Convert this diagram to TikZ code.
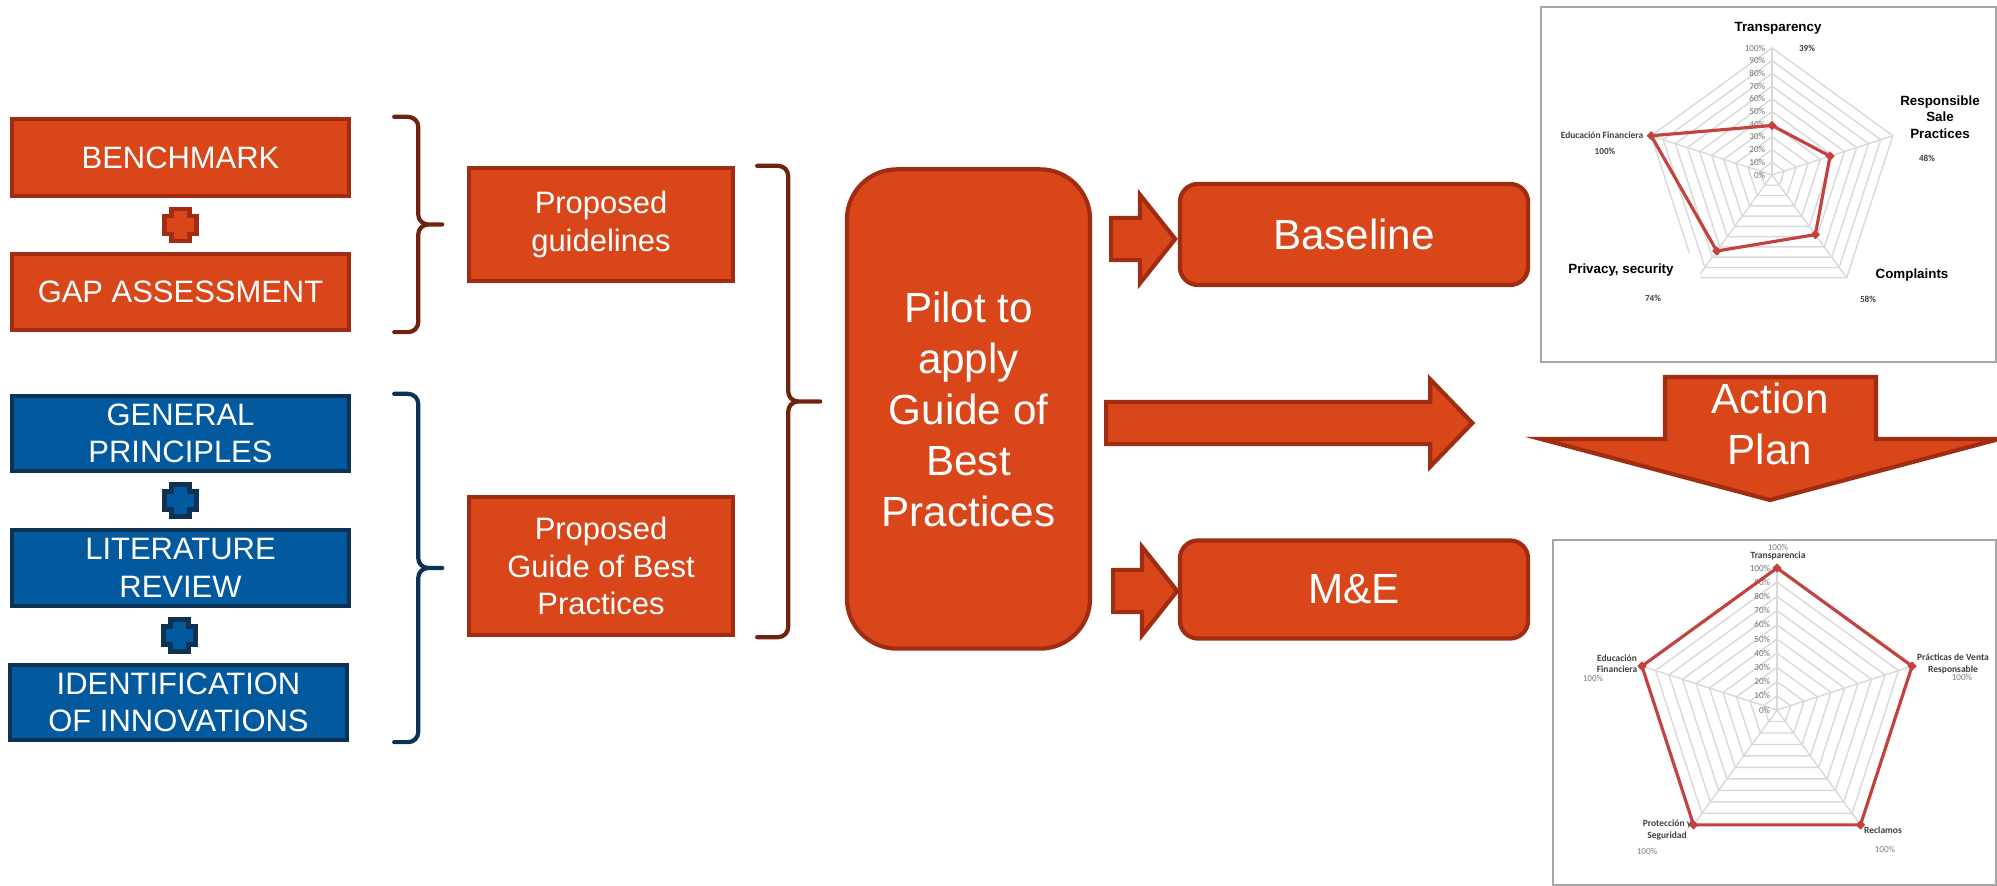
\documentclass[tikz,border=0pt]{standalone}
\usepackage{fontspec}
\setmainfont{Liberation Sans}
\newfontfamily\chartfont{Carlito}
\usepackage{xcolor}
\usepackage{tikz}
\usetikzlibrary{shapes.geometric, shapes.arrows, arrows.meta, positioning, calc}

\definecolor{orfill}{RGB}{216,70,26}
\definecolor{ordraw}{RGB}{160,45,17}
\definecolor{brbrace}{RGB}{110,35,16}
\definecolor{blfill}{RGB}{2,89,158}
\definecolor{bldraw}{RGB}{14,50,84}
\definecolor{chartred}{RGB}{196,66,62}
\definecolor{gridgray}{RGB}{217,217,217}
\definecolor{labgray}{RGB}{64,64,64}

\tikzset{
  plussign/.pic={
    \filldraw (-9,-16) -- (9,-16) -- (9,-9) -- (16,-9) -- (16,9) -- (9,9)
      -- (9,16) -- (-9,16) -- (-9,9) -- (-16,9) -- (-16,-9) -- (-9,-9) -- cycle;
  }
}

\begin{document}
\begin{tikzpicture}[x=0.01cm, y=-0.01cm,
    box/.style={rectangle, draw=ordraw, fill=orfill, line width=1.2pt,
                text=white, align=center, inner sep=0pt,
                font=\fontsize{8.8}{10.7}\selectfont},
    bluebox/.style={box, draw=bldraw, fill=blfill},
    bigbox/.style={box, rounded corners=0.18cm,
                   font=\fontsize{12}{14.5}\selectfont},
    blockarrow/.style={single arrow, draw=ordraw, fill=orfill,
                       line width=1.2pt, inner sep=0pt, anchor=tail,
                       text height=0.38cm, text depth=0pt},
    bracket/.style={line width=1.2pt, line cap=round, rounded corners=0.1cm},
    frame/.style={draw=black!35, fill=white, line width=0.6pt},
    gridline/.style={draw=gridgray, line width=0.4pt},
    dataline/.style={draw=chartred, line width=0.9pt, line join=round},
    datamark/.style={diamond, fill=chartred, inner sep=0pt, minimum size=0.1cm},
    axlabel/.style={font=\chartfont\fontsize{2.6}{3}\selectfont, text=black!55,
                    inner sep=0.3pt, anchor=east},
    catlabel/.style={font=\chartfont\bfseries\fontsize{2.7}{3.2}\selectfont,
                     text=labgray, align=center, inner sep=0.3pt},
    pctlabel/.style={font=\chartfont\bfseries\fontsize{2.6}{3}\selectfont,
                     text=labgray, inner sep=0.3pt},
    valgray/.style={font=\chartfont\fontsize{2.6}{3}\selectfont,
                    text=black!50, inner sep=0.3pt},
    biglabel/.style={font=\bfseries\fontsize{3.8}{4.7}\selectfont,
                     fill=white, align=center, inner sep=0.5pt}]

  \useasboundingbox (0,0) rectangle (1997,886);

  % inputs on the left
  \node[box, minimum width=3.37cm, minimum height=0.77cm] (bench) at (180.5,157.5) {BENCHMARK};
  \node[box, minimum width=3.37cm, minimum height=0.76cm] (gap) at (180.5,292) {GAP ASSESSMENT};
  \node[bluebox, minimum width=3.37cm, minimum height=0.75cm] (general) at (180.5,433.5) {GENERAL\\PRINCIPLES};
  \node[bluebox, minimum width=3.37cm, minimum height=0.76cm] (litrev) at (180.5,568) {LITERATURE\\REVIEW};
  \node[bluebox, minimum width=3.37cm, minimum height=0.75cm] (ident) at (178.5,702.5) {IDENTIFICATION\\OF INNOVATIONS};

  \pic[fill=orfill, draw=ordraw, line width=1.2pt] at ($(bench.south)!0.5!(gap.north)$) {plussign};
  \pic[fill=blfill, draw=bldraw, line width=1.2pt] at ($(general.south)!0.5!(litrev.north)$) {plussign};
  \pic[fill=blfill, draw=bldraw, line width=1.2pt] at ($(litrev.south)!0.5!(ident.north)$) {plussign};

  % right braces
  \coordinate (bra1) at ([xshift=0.43cm]bench.north east);
  \coordinate (brb1) at ([xshift=0.43cm]gap.south east);
  \coordinate (brm1) at ($(bra1)!0.5!(brb1)+(24,0)$);
  \draw[bracket, brbrace] (bra1) -| (brm1) -- ++(24,0) (brb1) -| (brm1) -- ++(24,0);

  \coordinate (bra2) at ([xshift=0.43cm]general.north east);
  \coordinate (brb2) at ([xshift=0.43cm]general.east |- ident.south);
  \coordinate (brm2) at ($(bra2)!0.5!(brb2)+(24,0)$);
  \draw[bracket, bldraw] (bra2) -| (brm2) -- ++(24,0) (brb2) -| (brm2) -- ++(24,0);

  % proposals
  \node[box, minimum width=2.64cm, minimum height=1.13cm] (guidea) at (601,224.5) {Proposed\\guidelines};
  \node[box, minimum width=2.64cm, minimum height=1.38cm] (guideb) at (601,566) {Proposed\\Guide of Best\\Practices};

  \coordinate (bra3) at ([xshift=0.22cm]guidea.north east);
  \coordinate (brb3) at ([xshift=0.22cm]guideb.south east);
  \coordinate (brm3) at ($(bra3)!0.5!(brb3)+(31,0)$);
  \draw[bracket, brbrace] (bra3) -| (brm3) -- ++(32,0) (brb3) -| (brm3) -- ++(32,0);

  % pilot and results
  \node[bigbox, rounded corners=0.5cm, minimum width=2.43cm, minimum height=4.79cm] (pilot) at (968.5,409)
        {Pilot to\\apply\\Guide of\\Best\\Practices};
  \node[bigbox, minimum width=3.48cm, minimum height=1.01cm] (base) at (1354,234.5) {Baseline};
  \node[bigbox, minimum width=3.48cm, minimum height=0.98cm] (mande) at (1354,589.5) {M\&E};

  \node[blockarrow, minimum height=0.64cm,
        single arrow head extend=0.23cm, single arrow tip angle=103] (arrbase) at (1109,239) {};
  \node[blockarrow, minimum height=0.64cm,
        single arrow head extend=0.23cm, single arrow tip angle=103] (arrme) at (1111,591) {};
  \node[blockarrow, minimum height=3.66cm,
        single arrow head extend=0.225cm, single arrow tip angle=92] (arrplan) at (1104,423) {};

  % action plan arrow
  \filldraw[fill=orfill, draw=ordraw, line width=1.2pt, line join=miter]
    (1665,377) -- (1876,377) -- (1876,439) -- (1999,439) -- (1770,500)
    -- (1541,439) -- (1665,439) -- cycle;
  \node[text=white, align=center, font=\fontsize{12}{14.3}\selectfont] (actplan) at (1770,424) {Action\\Plan};

  % baseline radar
  \draw[frame] (1541,7) rectangle (1996,362);
  \begin{scope}[shift={(1772,175)}]
    \foreach \k in {1,...,10}
      \draw[gridline] (-90:\k*12.7) -- (-18:\k*12.7) -- (54:\k*12.7) -- (126:\k*12.7) -- (-162:\k*12.7) -- cycle;
    \foreach \a in {-90,-18,54,126,-162}
      \draw[gridline] (0,0) -- (\a:127);
    \foreach \k in {0,...,10} {
      \pgfmathtruncatemacro\pct{\k*10}
      \node[axlabel] at (-5,-\k*12.7) {\pct\%};
    }
    \draw[dataline] (-90:49.5) -- (-18:61) -- (54:73.7) -- (126:94) -- (-162:127) -- cycle;
    \foreach \a/\v in {-90/49.5, -18/61, 54/73.7, 126/94, -162/127}
      \node[datamark] at (\a:\v) {};
  \end{scope}
  \node[biglabel] (transp) at (1778,28) {Transparency};
  \node[pctlabel] at (1807,48) {39\%};
  \node[biglabel] (respsale) at (1940,117) {Responsible\\Sale\\Practices};
  \node[pctlabel] at (1927,158) {48\%};
  \node[biglabel] (compl) at (1912,275) {Complaints};
  \node[pctlabel] at (1868,299) {58\%};
  \node[biglabel, minimum width=1.58cm, minimum height=0.34cm] (privsec) at (1621,270) {Privacy, security};
  \node[pctlabel] at (1653,298) {74\%};
  \node[catlabel] (edufin) at (1602,135) {Educaci\'on Financiera};
  \node[pctlabel] at (1605,151) {100\%};

  % follow-up radar
  \draw[frame] (1553,540) rectangle (1996,885);
  \begin{scope}[shift={(1777,710)}]
    \foreach \k in {1,...,10}
      \draw[gridline] (-90:\k*14.2) -- (-18:\k*14.2) -- (54:\k*14.2) -- (126:\k*14.2) -- (-162:\k*14.2) -- cycle;
    \foreach \a in {-90,-18,54,126,-162}
      \draw[gridline] (0,0) -- (\a:142);
    \foreach \k in {0,...,10} {
      \pgfmathtruncatemacro\pct{\k*10}
      \node[axlabel] at (-5,-\k*14.2) {\pct\%};
    }
    \draw[dataline] (-90:142) -- (-18:142) -- (54:142) -- (126:142) -- (-162:142) -- cycle;
    \foreach \a in {-90,-18,54,126,-162}
      \node[datamark] at (\a:142) {};
  \end{scope}
  \node[valgray] at (1778,547) {100\%};
  \node[catlabel] (transp2) at (1778,556) {Transparencia};
  \node[catlabel] (practicas) at (1953,664) {Pr\'acticas de Venta\\Responsable};
  \node[valgray] at (1962,677) {100\%};
  \node[catlabel] (edufin2) at (1617,664) {Educaci\'on\\Financiera};
  \node[valgray] at (1593,678) {100\%};
  \node[catlabel] (protec) at (1667,830) {Protecci\'on y\\Seguridad};
  \node[valgray] at (1647,851) {100\%};
  \node[catlabel] (reclamos) at (1883,830) {Reclamos};
  \node[valgray] at (1885,849) {100\%};
\end{tikzpicture}
\end{document}
